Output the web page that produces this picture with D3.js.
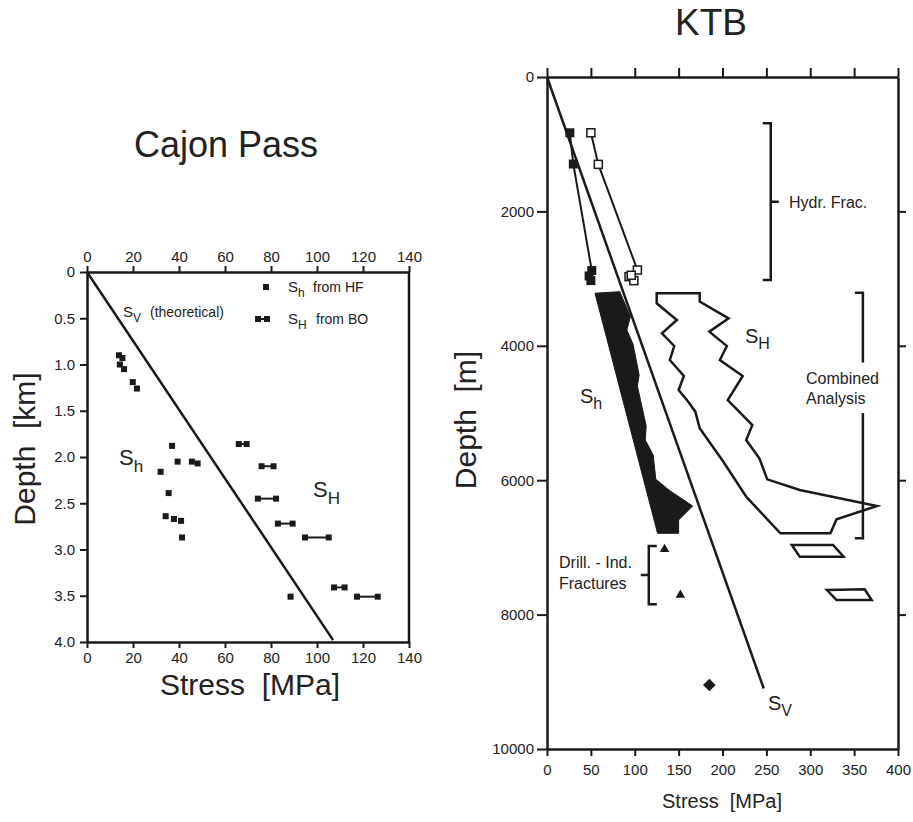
<!DOCTYPE html>
<html><head><meta charset="utf-8">
<script src="https://cdn.jsdelivr.net/npm/d3@7"></script>
<style>
body{margin:0;background:#fff;}
text{font-family:"Liberation Sans",Arial,sans-serif;fill:#222;}
</style></head>
<body><svg id="c" width="913" height="822"></svg>
<script>
// ---------- Cajon Pass data (stress MPa, depth km) ----------
const cajonTicksX = [0,20,40,60,80,100,120,140];
const cajonTicksY = [0,0.5,1.0,1.5,2.0,2.5,3.0,3.5,4.0];
const cajonSv = [[0,0],[107,3.98]];
const cajonSh = [[13.9,0.90],[15.4,0.93],[14.3,1.00],[16.1,1.05],[19.9,1.19],[21.7,1.26],
  [37.0,1.88],[39.4,2.05],[32.0,2.16],[45.6,2.05],[48.1,2.07],[35.5,2.39],[34.2,2.64],
  [37.8,2.67],[40.9,2.69],[41.3,2.87],[88.5,3.51]];
// SH from breakouts: [min stress, max stress, depth]
const cajonSH = [[66.0,69.4,1.86],[75.9,81.1,2.10],[74.3,82.2,2.45],[83.0,89.4,2.72],
  [94.8,105.1,2.87],[107.4,112.0,3.41],[117.4,126.4,3.51]];

// ---------- KTB data (stress MPa, depth m) ----------
const ktbTicksX = [0,50,100,150,200,250,300,350,400];
const ktbTicksY = [0,2000,4000,6000,8000,10000];
const ktbSv = [[0,0],[247,9100]];
const ktbHfSh = [[26,830],[30,1295],[51,2880],[48,2960],[50,3030]];
const ktbHfShLine = [[26,830],[30,1295],[51,2880]];
const ktbHfSH = [[50,830],[58.5,1300],[103,2872],[93.5,2971],[99,3031],[96,2950]];
const ktbHfSHLine = [[50,830],[58.5,1300],[103,2872]];
const ktbShBand = [[54.7,3217],[83,3195],[95,3565],[91,3766],[98,3973],[105,4435],[103,4598],
  [113,5193],[112,5402],[121,5625],[124,5987],[140,6156],[166,6384],[150,6592],[150,6790],[126,6790]];
const ktbSHOutline = [[125,3217],[174,3217],[174,3342],[207,3591],[185,3789],[205,4003],[197,4211],
  [223,4449],[206,4807],[234,5179],[227,5402],[242,5674],[251,5987],[288,6146],[376,6384],[330,6582],
  [323,6790],[266,6790],[227,6245],[201,5725],[174,5228],[169,4980],[161,4832],[150,4658],[156,4449],
  [140,4211],[145,4003],[131,3815],[148,3616],[125,3368]];
const ktbPara1 = [[279,6964],[326,6964],[338,7138],[288,7138]];
const ktbPara2 = [[319,7634],[362,7623],[370,7783],[330,7783]];
const ktbDif = [[134,7028],[152,7708]];
const ktbDiamond = [[185,9048]];
// brackets: [stress, depth top, depth bottom]
const ktbBracketHF = [255,689,3021];
const ktbBracketCA = [360,3210,6865];
const ktbBracketDIF = [116,6979,7845];

const svg = d3.select("#c");
const ink = "#1a1a1a";

function styleAxis(g, w){
  g.select(".domain").attr("stroke",ink).attr("stroke-width",w||2.5);
  g.selectAll(".tick line").attr("stroke",ink).attr("stroke-width",2);
  g.selectAll(".tick text").style("font-family","Liberation Sans, Arial, sans-serif")
    .style("font-size","15px").attr("fill","#222");
}
function sub(t, x, y, main, s, size, subSize, dy, anchor){
  const el = t.append("text").attr("x",x).attr("y",y).style("font-size",size+"px");
  if(anchor) el.attr("text-anchor",anchor);
  el.append("tspan").text(main);
  el.append("tspan").attr("dy",dy).style("font-size",subSize+"px").text(s);
  return el;
}

// ================= Cajon Pass =================
const xL = d3.scaleLinear().domain([0,140]).range([87,409]);
const yL = d3.scaleLinear().domain([0,4]).range([272,642]);
const gL = svg.append("g");

gL.append("g").attr("transform","translate(0,642)")
  .call(d3.axisBottom(xL).tickValues(cajonTicksX).tickSize(6).tickSizeOuter(0).tickPadding(4).tickFormat(d3.format("d")))
  .call(styleAxis);
gL.append("g").attr("transform","translate(0,272)")
  .call(d3.axisTop(xL).tickValues(cajonTicksX).tickSize(6).tickSizeOuter(0).tickPadding(4).tickFormat(d3.format("d")))
  .call(styleAxis);
gL.append("g").attr("transform","translate(87,0)")
  .call(d3.axisLeft(yL).tickValues(cajonTicksY).tickSize(7).tickSizeOuter(0).tickPadding(5)
    .tickFormat(d=>d===0?"0":d.toFixed(1)))
  .call(styleAxis);
gL.append("line").attr("x1",xL(140)).attr("x2",xL(140)).attr("y1",yL(0)-1).attr("y2",yL(4)+1)
  .attr("stroke",ink).attr("stroke-width",2.5);

const lineL = d3.line().x(d=>xL(d[0])).y(d=>yL(d[1]));
gL.append("path").attr("d",lineL(cajonSv)).attr("fill","none").attr("stroke",ink).attr("stroke-width",2.5);

const sqL = 6;
gL.selectAll(".sh").data(cajonSh).join("rect")
  .attr("x",d=>xL(d[0])-sqL/2).attr("y",d=>yL(d[1])-sqL/2).attr("width",sqL).attr("height",sqL).attr("fill",ink);
const shG = gL.selectAll(".sH").data(cajonSH).join("g");
shG.append("line").attr("x1",d=>xL(d[0])).attr("x2",d=>xL(d[1])).attr("y1",d=>yL(d[2])).attr("y2",d=>yL(d[2]))
  .attr("stroke",ink).attr("stroke-width",2);
shG.append("rect").attr("x",d=>xL(d[0])-sqL/2).attr("y",d=>yL(d[2])-sqL/2).attr("width",sqL).attr("height",sqL).attr("fill",ink);
shG.append("rect").attr("x",d=>xL(d[1])-sqL/2).attr("y",d=>yL(d[2])-sqL/2).attr("width",sqL).attr("height",sqL).attr("fill",ink);

// legend
gL.append("rect").attr("x",263).attr("y",284).attr("width",sqL).attr("height",sqL).attr("fill",ink);
sub(gL,288,292,"S","h",15,12,5);
gL.append("text").attr("x",313).attr("y",292).style("font-size","14px").text("from HF");
gL.append("line").attr("x1",258).attr("x2",267).attr("y1",319).attr("y2",319).attr("stroke",ink).attr("stroke-width",2);
gL.append("rect").attr("x",255).attr("y",316).attr("width",sqL).attr("height",sqL).attr("fill",ink);
gL.append("rect").attr("x",264).attr("y",316).attr("width",sqL).attr("height",sqL).attr("fill",ink);
const t2 = sub(gL,288,324,"S","H",15,12,5);
gL.append("text").attr("x",316).attr("y",324).style("font-size","14px").text("from BO");

const t3 = sub(gL,123,317,"S","V",15,12,5);
gL.append("text").attr("x",150).attr("y",317).style("font-size","14px").text("(theoretical)");
sub(gL,119,465,"S","h",22,17,7);
sub(gL,313,497,"S","H",22,17,7);

gL.append("text").attr("x",226).attr("y",157).attr("text-anchor","middle").style("font-size","36px").text("Cajon Pass");
gL.append("text").attr("x",250).attr("y",695).attr("text-anchor","middle").style("font-size","30px")
  .attr("xml:space","preserve").style("white-space","pre").text("Stress  [MPa]");
gL.append("text").attr("transform","translate(35,449) rotate(-90)").attr("text-anchor","middle").style("font-size","30px")
  .style("white-space","pre").text("Depth  [km]");

// ================= KTB =================
const xR = d3.scaleLinear().domain([0,400]).range([547,898]);
const yR = d3.scaleLinear().domain([0,10000]).range([77,749]);
const gR = svg.append("g");

gR.append("g").attr("transform","translate(0,749)")
  .call(d3.axisBottom(xR).tickValues(ktbTicksX).tickSize(7).tickSizeOuter(0).tickPadding(8).tickFormat(d3.format("d")))
  .call(styleAxis);
gR.append("g").attr("transform","translate(0,77)")
  .call(d3.axisTop(xR).tickValues(ktbTicksX).tickSize(9).tickSizeOuter(0).tickFormat(""))
  .call(styleAxis);
gR.append("g").attr("transform","translate(547,0)")
  .call(d3.axisLeft(yR).tickValues(ktbTicksY).tickSize(10).tickSizeOuter(0).tickPadding(3).tickFormat(d3.format("d")))
  .call(styleAxis);
gR.append("g").attr("transform","translate(898,0)")
  .call(d3.axisRight(yR).tickValues(ktbTicksY.slice(1,5)).tickSize(8).tickSizeOuter(0).tickFormat(""))
  .call(styleAxis);

const lineR = d3.line().x(d=>xR(d[0])).y(d=>yR(d[1]));
gR.append("path").attr("d",lineR(ktbShBand)+"Z").attr("fill",ink).attr("stroke",ink).attr("stroke-width",1);
gR.append("path").attr("d",lineR(ktbSHOutline)+"Z").attr("fill","none").attr("stroke",ink).attr("stroke-width",2.5).attr("stroke-linejoin","miter");
[ktbPara1,ktbPara2].forEach(p=>gR.append("path").attr("d",lineR(p)+"Z").attr("fill","none").attr("stroke",ink).attr("stroke-width",2.5));
gR.append("path").attr("d",lineR(ktbSv)).attr("fill","none").attr("stroke",ink).attr("stroke-width",2.5);

gR.append("path").attr("d",lineR(ktbHfShLine)).attr("fill","none").attr("stroke",ink).attr("stroke-width",2);
gR.append("path").attr("d",lineR(ktbHfSHLine)).attr("fill","none").attr("stroke",ink).attr("stroke-width",2);
const sqR = 9;
gR.selectAll(".hfsh").data(ktbHfSh).join("rect")
  .attr("x",d=>xR(d[0])-sqR/2).attr("y",d=>yR(d[1])-sqR/2).attr("width",sqR).attr("height",sqR).attr("fill",ink);
gR.selectAll(".hfSH").data(ktbHfSH).join("rect")
  .attr("x",d=>xR(d[0])-4).attr("y",d=>yR(d[1])-4).attr("width",8).attr("height",8)
  .attr("fill","#fff").attr("stroke",ink).attr("stroke-width",1.5);

gR.selectAll(".dif").data(ktbDif).join("path")
  .attr("d",d3.symbol(d3.symbolTriangle,40)).attr("transform",d=>`translate(${xR(d[0])},${yR(d[1])})`).attr("fill",ink);
gR.selectAll(".dia").data(ktbDiamond).join("path")
  .attr("d",d3.symbol(d3.symbolSquare,80)).attr("transform",d=>`translate(${xR(d[0])},${yR(d[1])}) rotate(45)`).attr("fill",ink);

function bracket(b, serifDir, gapTop, gapBot){
  const x = xR(b[0]), y0 = yR(b[1]), y1 = yR(b[2]);
  const s = 8*serifDir;
  const st = {stroke:ink, "stroke-width":2.5, fill:"none"};
  let d;
  if(gapTop!==undefined){
    d = `M${x+s},${y0}H${x}V${yR(gapTop)}M${x},${yR(gapBot)}V${y1}H${x+s}`;
  } else {
    const ym = (y0+y1)/2;
    d = `M${x+s},${y0}H${x}V${y1}H${x+s}M${x},${ym}H${x-s}`;
  }
  const p = gR.append("path").attr("d",d);
  Object.entries(st).forEach(([k,v])=>p.attr(k,v));
}
bracket(ktbBracketHF,-1);
bracket(ktbBracketCA,-1,4250,5000);
bracket(ktbBracketDIF,1);

gR.append("text").attr("x",789).attr("y",208).style("font-size","16px").text("Hydr. Frac.");
gR.append("text").attr("x",806).attr("y",384).style("font-size","16px").text("Combined");
gR.append("text").attr("x",806).attr("y",404).style("font-size","16px").text("Analysis");
gR.append("text").attr("x",559).attr("y",568).style("font-size","16px").text("Drill. - Ind.");
gR.append("text").attr("x",559).attr("y",589).style("font-size","16px").text("Fractures");
sub(gR,745,343,"S","H",20,16,6);
sub(gR,580,403,"S","h",20,16,6);
sub(gR,768,710,"S","V",20,16,6);

gR.append("text").attr("x",711).attr("y",35).attr("text-anchor","middle").style("font-size","37px").text("KTB");
gR.append("text").attr("x",722).attr("y",808).attr("text-anchor","middle").style("font-size","20px")
  .style("white-space","pre").text("Stress  [MPa]");
gR.append("text").attr("transform","translate(476,420) rotate(-90)").attr("text-anchor","middle").style("font-size","30px")
  .style("white-space","pre").text("Depth  [m]");
</script></body></html>
